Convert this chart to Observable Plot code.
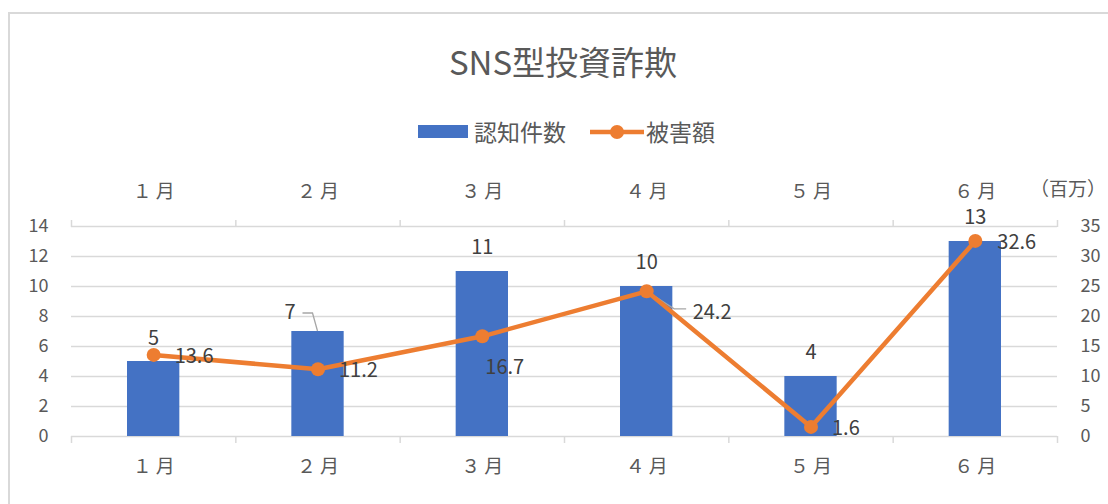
<!DOCTYPE html>
<html><head><meta charset="utf-8">
<script src="https://cdn.jsdelivr.net/npm/d3@7"></script>
<script src="https://cdn.jsdelivr.net/npm/@observablehq/plot@0.6"></script>
<style>
body{margin:0;background:#fff;}
#wrap{position:relative;width:1108px;height:504px;overflow:hidden;font-family:"Noto Sans CJK JP","Noto Sans",sans-serif;background:#fff;}
#frame{position:absolute;left:8px;top:12px;width:1300px;height:700px;border:2px solid #d9d9d9;box-sizing:border-box;}
#title{position:absolute;left:0;width:1126px;top:45px;text-align:center;font-size:33px;color:#595959;line-height:1;}
#legend{position:absolute;left:418px;top:120px;display:flex;align-items:center;font-size:23px;color:#595959;line-height:1;}
#legend .sw{display:inline-block;}
#chart{position:absolute;left:0;top:0;}
#unit{position:absolute;left:1030px;top:178px;font-size:19px;color:#595959;line-height:1;}
.mlab text{letter-spacing:4px;}
</style></head>
<body>
<div id="wrap">
  <div id="frame"></div>
  <div id="title"></div>
  <div id="legend"></div>
  <div id="unit"></div>
  <div id="chart"></div>
</div>
<script>
const title = "SNS型投資詐欺";
const months = ["１月","２月","３月","４月","５月","６月"];
const counts = [5, 7, 11, 10, 4, 13];           // 認知件数
const damages = [13.6, 11.2, 16.7, 24.2, 1.6, 32.6]; // 被害額（百万）
const seriesNames = ["認知件数", "被害額"];
const unitLabel = "（百万）";
const leftTicks = [0, 2, 4, 6, 8, 10, 12, 14];
const rightTicks = [0, 5, 10, 15, 20, 25, 30, 35];
// label offsets (px) — styling only
const barLabelOffsets = [[0,-23],[-28,-19],[0,-24],[0,-24],[0,-24],[0,-24]];
const lineLabelOffsets = [[21,2],[21,1],[3,31],[46,21],[21,2],[22,2]];

const blue = "#4472C4", orange = "#ED7D31", grid = "#d9d9d9", axisColor = "#595959", labelColor = "#404040";
const ratio = leftTicks[leftTicks.length-1] / rightTicks[rightTicks.length-1];

const data = months.map((m, i) => ({month: m, pos: i + 1, count: counts[i], damage: damages[i]}));
const bounds = d3.range(0, months.length + 1).map(i => i + 0.5);

document.getElementById("title").textContent = title;
document.getElementById("unit").textContent = unitLabel;
document.getElementById("legend").innerHTML =
  `<span class="sw" style="width:50px;height:13px;background:${blue};"></span>` +
  `<span style="margin-left:6px;">${seriesNames[0]}</span>` +
  `<svg class="sw" width="54" height="16" style="margin-left:24px;"><line x1="0" x2="54" y1="8" y2="8" stroke="${orange}" stroke-width="4.5"/><circle cx="27" cy="8" r="7" fill="${orange}"/></svg>` +
  `<span style="margin-left:2px;">${seriesNames[1]}</span>`;

const leaders = (index, scales) => {
  const x = scales.x, y = scales.y;
  const g = d3.create("svg:g").attr("fill", "none").attr("stroke", "#a6a6a6").attr("stroke-width", 1.3);
  const bx = x(data[1].pos), by = y(data[1].count);
  g.append("path").attr("d", `M${bx - 15},${by - 18}H${bx - 5}L${bx},${by}`);
  const lx = x(data[3].pos), ly = y(data[3].damage * ratio);
  g.append("path").attr("d", `M${lx},${ly}L${lx + 28},${ly + 18}H${lx + 40}`);
  return g.node();
};

const chart = Plot.plot({
  width: 1108,
  height: 504,
  marginTop: 226,
  marginBottom: 68,
  marginLeft: 71,
  marginRight: 51,
  style: {fontFamily: '"Noto Sans CJK JP","Noto Sans",sans-serif', background: "transparent", overflow: "visible"},
  x: {type: "linear", domain: [0.5, months.length + 0.5]},
  y: {domain: [0, 14]},
  marks: [
    Plot.ruleY(leftTicks, {stroke: grid, strokeWidth: 1.5}),
    Plot.axisX({anchor: "bottom", ticks: bounds, tickSize: 7, tickFormat: () => "", stroke: grid, strokeWidth: 1.5, label: null}),
    Plot.axisX({anchor: "top", ticks: bounds, tickSize: 7, tickFormat: () => "", stroke: grid, strokeWidth: 1.5, label: null}),
    Plot.axisX({anchor: "bottom", ticks: data.map(d => d.pos), tickFormat: p => months[p - 1], tickSize: 0, tickPadding: 23, fontSize: 19, fill: axisColor, label: null, className: "mlab", dx: 2}),
    Plot.axisX({anchor: "top", ticks: data.map(d => d.pos), tickFormat: p => months[p - 1], tickSize: 0, tickPadding: 29, fontSize: 19, fill: axisColor, label: null, className: "mlab", dx: 2}),
    Plot.axisY({anchor: "left", ticks: leftTicks, tickSize: 0, tickPadding: 23, fontSize: 18, fill: axisColor, label: null}),
    Plot.axisY({anchor: "right", ticks: rightTicks.map(v => v * ratio), tickFormat: d => String(Math.round(d / ratio)), tickSize: 0, tickPadding: 23, fontSize: 18, fill: axisColor, label: null}),
    Plot.rectY(data, {x1: d => d.pos - 0.5, x2: d => d.pos + 0.5, y: "count", fill: blue, insetLeft: 56, insetRight: 56}),
    leaders,
    Plot.line(data, {x: "pos", y: d => d.damage * ratio, stroke: orange, strokeWidth: 4.5}),
    Plot.dot(data, {x: "pos", y: d => d.damage * ratio, r: 7, fill: orange, stroke: "none"}),
    ...data.map((d, i) => Plot.text([d], {x: "pos", y: "count", text: d => String(d.count), dx: barLabelOffsets[i][0], dy: barLabelOffsets[i][1], fontSize: 20, fill: labelColor})),
    ...data.map((d, i) => Plot.text([d], {x: "pos", y: d => d.damage * ratio, text: d => String(d.damage), textAnchor: "start", dx: lineLabelOffsets[i][0], dy: lineLabelOffsets[i][1], fontSize: 20, fill: labelColor}))
  ]
});
document.getElementById("chart").appendChild(chart);
</script>
</body></html>
